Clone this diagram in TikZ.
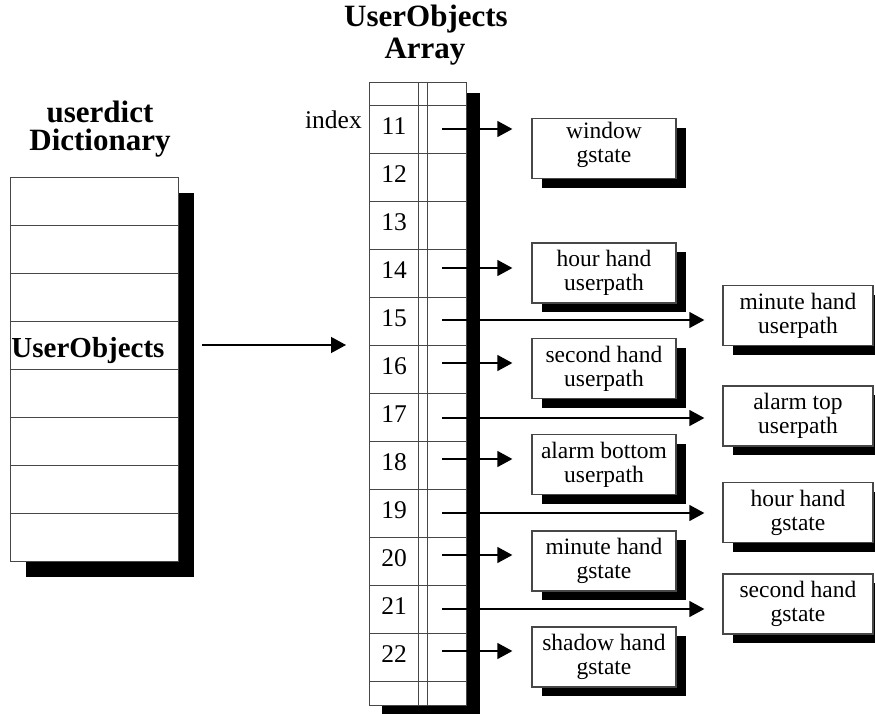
\documentclass[tikz,border=0pt]{standalone}
\usepackage{fontspec}
\setmainfont{Liberation Serif}
\usetikzlibrary{arrows.meta,shadows}
\begin{document}
\begin{tikzpicture}[x=1pt,y=-1pt,
  frame/.style={draw=black!72, line width=1.3pt},
  dcell/.style={frame, fill=white, minimum width=168pt, minimum height=48pt, inner sep=0pt, anchor=north west},
  acell/.style={frame, fill=white, minimum width=97pt, minimum height=#1, inner sep=0pt, anchor=north west},
  objbox/.style={frame, fill=white, minimum height=60pt, inner sep=0pt,
    font=\fontsize{23.5}{24}\selectfont, align=center,
    drop shadow={shadow xshift=10pt, shadow yshift=-9pt, fill=black, opacity=1}},
  boxtext/.style={font=\fontsize{23.5}{24}\selectfont, align=center, inner sep=0pt},
  title/.style={font=\bfseries\fontsize{31}{31}\selectfont, anchor=base, inner sep=0pt},
  num/.style={font=\fontsize{25.5}{25.5}\selectfont, anchor=base, inner sep=0pt},
  conn/.style={line width=1.3pt, -{Triangle[length=15pt,width=16pt]}},
  shade/.style={fill=black},
]
\useasboundingbox (0,0) rectangle (875,713);

% titles
\node[title] (t1) at (100,122) {userdict};
\node[title] (t2) at (100,150) {Dictionary};
\node[title] (t3) at (426,26) {UserObjects};
\node[title] (t4) at (425,58) {Array};

% dictionary
\fill[shade] (26,193) rectangle (194,577);
\foreach \i in {1,...,8} \node[dcell] (d\i) at (10,{177+48*(\i-1)}) {};
\node[font=\bfseries\fontsize{29}{29}\selectfont, anchor=base, inner sep=0pt] (uo) at (88,357) {UserObjects};

% array
\fill[shade] (382,93) rectangle (480,716);
\node[acell=23pt] (rtop) at (369,82) {};
\foreach \n in {11,...,22} {
  \node[acell=48pt] (r\n) at (369,{105+48*(\n-11)}) {};
  \node[num] (n\n) at (394,{134+48*(\n-11)}) {\n};
}
\node[acell=24pt] (rbot) at (369,681) {};
\draw[draw=black!72, line width=1pt] (418,82) -- (418,705) (427,82) -- (427,705);
\node[num, anchor=base east] (idx) at (362,128) {index};

% dictionary -> array
\coordinate (da) at (202,345);
\coordinate (db) at (346,345);
\draw[conn] (da) -- (db);

% object boxes, column 1
\node[objbox, minimum width=144pt] (bwin) at (604,148.5) {};
\node[boxtext] (bwin-t) at ([yshift=4pt]bwin.center) {window\\gstate};
\node[objbox, minimum width=144pt] (bhhu) at (604,273) {hour hand\\userpath};
\node[objbox, minimum width=144pt] (bshu) at (604,368.5) {second hand\\userpath};
\node[objbox, minimum width=144pt] (babu) at (604,464.5) {alarm bottom\\userpath};
\node[objbox, minimum width=144pt] (bmhg) at (604,561) {minute hand\\gstate};
\node[objbox, minimum width=144pt] (bsdg) at (604,657) {shadow hand\\gstate};

% object boxes, column 2
\node[objbox, minimum width=150pt] (bmhu) at (798,315.5) {minute hand\\userpath};
\node[objbox, minimum width=150pt] (batu) at (798,416) {alarm top\\userpath};
\node[objbox, minimum width=150pt] (bhhg) at (798,512.5) {hour hand\\gstate};
\node[objbox, minimum width=150pt] (bscg) at (798,604) {second hand\\gstate};

% arrow starts
\coordinate (s11) at (442,129);
\coordinate (s14) at (442,268);
\coordinate (s15) at (442,320);
\coordinate (s16) at (442,363);
\coordinate (s17) at (442,418);
\coordinate (s18) at (442,459);
\coordinate (s19) at (442,513);
\coordinate (s20) at (442,555);
\coordinate (s21) at (442,609);
\coordinate (s22) at (442,651);

% short arrows
\draw[conn, shorten >=19pt] (s11) -- (s11 -| bwin.west);
\draw[conn, shorten >=19pt] (s14) -- (s14 -| bhhu.west);
\draw[conn, shorten >=19pt] (s16) -- (s16 -| bshu.west);
\draw[conn, shorten >=19pt] (s18) -- (s18 -| babu.west);
\draw[conn, shorten >=19pt] (s20) -- (s20 -| bmhg.west);
\draw[conn, shorten >=19pt] (s22) -- (s22 -| bsdg.west);
% long arrows
\draw[conn, shorten >=18pt] (s15) -- (s15 -| bmhu.west);
\draw[conn, shorten >=18pt] (s17) -- (s17 -| batu.west);
\draw[conn, shorten >=18pt] (s19) -- (s19 -| bhhg.west);
\draw[conn, shorten >=18pt] (s21) -- (s21 -| bscg.west);
\end{tikzpicture}
\end{document}
